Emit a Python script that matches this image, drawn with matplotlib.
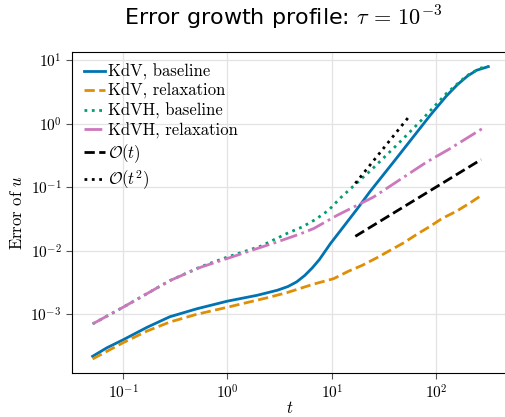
import matplotlib
matplotlib.use("Agg")
import matplotlib.pyplot as plt
from matplotlib.ticker import NullLocator

plt.rcParams['mathtext.fontset'] = 'cm'
plt.rcParams['font.family'] = 'serif'
plt.rcParams['font.serif'] = ['cmr10', 'DejaVu Serif']
plt.rcParams['axes.formatter.use_mathtext'] = True
plt.rcParams['axes.unicode_minus'] = False

# values
t_kdv_base = [0.051, 0.07, 0.1, 0.17, 0.28, 0.51, 1.0, 1.92, 3.0, 3.8, 4.6, 5.5, 6.5, 7.6, 9.7,
              13.0, 17.4, 23.3, 42, 88, 125, 160, 200, 245, 316]
e_kdv_base = [2.2e-4, 3.0e-4, 4.0e-4, 6.3e-4, 9.2e-4, 1.23e-3, 1.62e-3, 2.0e-3, 2.4e-3, 2.75e-3,
              3.25e-3, 4.1e-3, 5.4e-3, 7.3e-3, 0.013, 0.0242, 0.045, 0.086, 0.29, 1.36, 2.7, 4.1,
              5.6, 6.9, 7.85]

t_kdv_relax = [0.051, 0.1, 0.17, 0.28, 0.5, 1.0, 2.4, 3.7, 6.7, 10.4, 14.5, 19.5, 27.1, 36.3,
               48.6, 65.3, 87.6, 113, 158, 211, 280]
e_kdv_relax = [2.0e-4, 3.6e-4, 5.5e-4, 7.6e-4, 1.0e-3, 1.3e-3, 1.83e-3, 2.2e-3, 3.0e-3, 3.65e-3,
               4.8e-3, 5.9e-3, 7.8e-3, 0.0102, 0.0133, 0.0182, 0.0243, 0.032, 0.0423, 0.0566, 0.077]

t_kdvh_base = [0.051, 0.1, 0.28, 0.55, 1.0, 2.07, 3.7, 5.19, 6.95, 9.3, 12.1, 16.2, 23.3, 42, 70,
               126, 195, 262, 316]
e_kdvh_base = [7.1e-4, 1.3e-3, 3.4e-3, 5.6e-3, 8.0e-3, 0.0118, 0.0187, 0.0237, 0.031, 0.0434, 0.068,
               0.105, 0.18, 0.46, 1.07, 3.0, 5.6, 7.4, 7.9]

t_kdvh_relax = [0.051, 0.1, 0.28, 0.55, 1.0, 2.99, 5.0, 6.7, 11.2, 18.7, 25.1, 81.5, 131, 282]
e_kdvh_relax = [7.1e-4, 1.3e-3, 3.4e-3, 5.5e-3, 7.6e-3, 0.0138, 0.0185, 0.0224, 0.036, 0.055, 0.070,
                0.25, 0.39, 0.85]

t_ref1 = [16.8, 270]
e_ref1 = [0.0169, 0.272]
t_ref2 = [16.8, 56.4]
e_ref2 = [0.115, 1.36]

fig = plt.figure(figsize=(5.06, 4.17), dpi=100)
ax = fig.add_axes([0.1423, 0.1055, 0.862, 0.770])

ax.plot(t_kdv_base, e_kdv_base, color='#0173b2', lw=2, ls='-', label='KdV, baseline')
ax.plot(t_kdv_relax, e_kdv_relax, color='#de8f05', lw=2, ls='--', label='KdV, relaxation')
ax.plot(t_kdvh_base, e_kdvh_base, color='#029e73', lw=2, ls=':', label='KdVH, baseline')
ax.plot(t_kdvh_relax, e_kdvh_relax, color='#cc78bc', lw=2, ls='-.', label='KdVH, relaxation')
ax.plot(t_ref1, e_ref1, color='black', lw=2, ls='--', label=r'$\mathcal{O}(t)$')
ax.plot(t_ref2, e_ref2, color='black', lw=2, ls=':', label=r'$\mathcal{O}(t^2)$')

ax.set_xscale('log')
ax.set_yscale('log')
ax.set_xlim(10**-1.49, 10**2.69)
ax.set_ylim(10**-3.92, 10**1.126)
ax.xaxis.set_minor_locator(NullLocator())
ax.yaxis.set_minor_locator(NullLocator())

ax.grid(True, color='#e3e3e3', lw=0.9)
ax.set_axisbelow(True)
ax.spines['right'].set_visible(False)
ax.tick_params(labelsize=11, length=4, width=0.8, color='#555555')

ax.set_xlabel(r'$t$', fontsize=12, labelpad=-1)
ax.set_ylabel(r'Error of $u$', fontsize=12)
ax.set_title(r'Error growth profile: $\tau\,=\,10^{-3}$', fontsize=16, family='DejaVu Sans',
             x=0.484, pad=19)

ax.legend(loc='upper left', frameon=False, fontsize=12, handlelength=1.25,
          handletextpad=0.2, labelspacing=0.2, borderaxespad=0.3)

fig.savefig('out.png', dpi=100)
